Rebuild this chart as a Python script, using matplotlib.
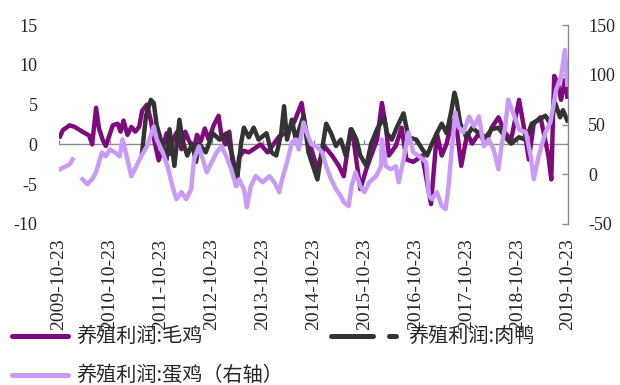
import numpy as np
import pandas as pd
import matplotlib
matplotlib.use('Agg')
import matplotlib.pyplot as plt
from matplotlib.lines import Line2D

# 养殖利润:毛鸡 (左轴)
broiler_dates = [
    '2009-10-30', '2009-11-20', '2010-01-08', '2010-02-12', '2010-04-09', '2010-05-28',
    '2010-06-18', '2010-07-16', '2010-08-06', '2010-09-03', '2010-09-24', '2010-11-13',
    '2010-12-18', '2011-01-08', '2011-01-29', '2011-02-26', '2011-03-26', '2011-04-23',
    '2011-05-21', '2011-06-11', '2011-07-16', '2011-08-13', '2011-09-10', '2011-10-08',
    '2011-11-06', '2011-12-04', '2011-12-25', '2012-01-22', '2012-02-19', '2012-03-19',
    '2012-04-16', '2012-05-14', '2012-06-18', '2012-07-09', '2012-08-06', '2012-09-03',
    '2012-10-01', '2012-11-06', '2012-12-11', '2013-01-01', '2013-01-29', '2013-02-26',
    '2013-03-26', '2013-04-16', '2013-05-07', '2013-06-11', '2013-07-16', '2013-08-27',
    '2013-10-08', '2013-11-27', '2014-01-08', '2014-02-19', '2014-04-02', '2014-05-14',
    '2014-06-11', '2014-07-30', '2014-08-27', '2014-09-17', '2014-11-20', '2015-01-08',
    '2015-03-05', '2015-04-23', '2015-05-28', '2015-07-16', '2015-08-06', '2015-09-24',
    '2015-11-06', '2015-12-11', '2016-01-22', '2016-02-26', '2016-03-26', '2016-04-16',
    '2016-06-04', '2016-07-16', '2016-08-20', '2016-10-08', '2016-12-11', '2017-02-12',
    '2017-03-05', '2017-03-26', '2017-04-30', '2017-06-04', '2017-07-02', '2017-08-06',
    '2017-09-17', '2017-10-30', '2017-12-04', '2018-01-22', '2018-03-12', '2018-04-23',
    '2018-06-11', '2018-07-30', '2018-09-10', '2018-11-06', '2018-12-11', '2019-01-15',
    '2019-02-19', '2019-04-09', '2019-06-04', '2019-06-25', '2019-07-16', '2019-08-13',
    '2019-09-03', '2019-10-01', '2019-10-18',
]
broiler = [
    1.0, 1.8, 2.4, 2.2, 1.6, 1.1,
    0.0, 4.6, 2.0, 0.5, -0.2, 2.4,
    2.6, 1.6, 3.0, 1.2, 2.2, 1.6,
    2.2, 4.2, 5.0, 3.0, 0.2, -2.0,
    -0.4, 1.4, -1.2, 0.8, 1.6, -0.6,
    1.6, 0.4, -0.6, 1.2, 0.4, 2.0,
    0.6, 2.4, 3.6, 1.0, 0.0, 1.6,
    -3.0, -5.2, -1.6, -0.8, -1.0, -0.5,
    0.0, -1.0, 0.0, 1.0, 1.4, 2.0,
    3.0, 5.2, 2.0, 0.6, -3.1, -0.2,
    -1.4, -2.7, -4.0, 1.9, 0.6, -5.6,
    -3.1, -1.4, 0.6, 5.2, 2.1, -1.4,
    -0.2, 2.1, -1.9, -2.2, -1.4, -7.5,
    -3.1, 1.4, -1.4, 0.1, 2.1, 3.4,
    -2.7, 1.4, 0.1, 1.4, 0.1, 2.1,
    3.4, 1.4, 0.6, 5.6, 2.1, -1.9,
    2.6, 3.4, -1.4, -4.4, 8.6, 7.5,
    5.6, 8.1, 6.0,
]

# 养殖利润:肉鸭 (左轴)
duck_dates = [
    '2011-06-11', '2011-07-09', '2011-08-13', '2011-09-03', '2011-09-24', '2011-11-06',
    '2011-12-04', '2011-12-25', '2012-01-29', '2012-03-05', '2012-03-26', '2012-04-30',
    '2012-06-04', '2012-07-02', '2012-07-23', '2012-09-10', '2012-10-30', '2012-12-18',
    '2013-02-05', '2013-03-19', '2013-04-23', '2013-05-21', '2013-06-11', '2013-07-16',
    '2013-08-20', '2013-09-24', '2013-11-20', '2013-12-25', '2014-01-29', '2014-03-05',
    '2014-03-26', '2014-04-16', '2014-05-21', '2014-06-18', '2014-08-13', '2014-09-17',
    '2014-11-20', '2015-01-22', '2015-02-26', '2015-04-02', '2015-05-07', '2015-06-11',
    '2015-07-23', '2015-08-27', '2015-09-24', '2015-11-06', '2015-12-11', '2016-01-22',
    '2016-03-12', '2016-04-02', '2016-05-07', '2016-06-11', '2016-07-30', '2016-09-03',
    '2016-10-30', '2016-12-11', '2017-01-15', '2017-02-19', '2017-03-26', '2017-04-30',
    '2017-06-04', '2017-07-09', '2017-07-30', '2017-08-13', '2017-09-10', '2017-10-23',
    '2017-12-04', '2018-01-22', '2018-03-12', '2018-04-23', '2018-06-11', '2018-07-30',
    '2018-09-10', '2018-11-06', '2018-12-25', '2019-02-05', '2019-03-26', '2019-05-14',
    '2019-06-18', '2019-07-23', '2019-08-27', '2019-09-17', '2019-10-18',
]
duck = [
    -1.0, 3.6, 5.6, 5.2, 2.4, -0.2,
    -1.9, 1.9, -2.7, 3.1, 0.6, -1.4,
    0.1, -2.2, 0.1, -1.0, 1.4, 0.6,
    1.4, -1.4, -4.4, 0.1, 2.1, 0.9,
    2.1, 0.6, 1.4, -1.0, -1.4, 1.4,
    4.8, 0.6, 3.1, 0.6, 3.6, -1.0,
    -4.4, 2.6, 1.4, -0.2, 0.6, -1.4,
    1.9, 0.6, -1.4, -2.7, 0.1, 1.9,
    3.4, 1.4, 0.6, 2.1, 3.9, 0.9,
    0.6, -0.6, -1.4, 0.1, 1.4, 2.6,
    1.4, 4.3, 6.5, 5.6, 2.6, 0.9,
    2.1, 1.4, 0.9, 1.9, 2.1, 0.9,
    0.1, 0.9, 0.6, 2.6, 3.1, 3.6,
    2.6, 5.2, 3.4, 4.3, 3.0,
]

# 养殖利润:蛋鸡 (右轴)
layer_dates = [
    '2009-10-30', '2009-12-11', '2010-01-08', '2010-01-29', '2010-02-26', '2010-04-09',
    '2010-05-14', '2010-06-18', '2010-07-16', '2010-08-06', '2010-08-27', '2010-09-24',
    '2010-10-23', '2010-11-27', '2011-01-01', '2011-01-22', '2011-02-26', '2011-03-26',
    '2011-04-30', '2011-06-04', '2011-07-16', '2011-09-03', '2011-09-24', '2011-11-06',
    '2011-12-11', '2012-01-15', '2012-02-12', '2012-03-19', '2012-04-23', '2012-05-28',
    '2012-06-18', '2012-07-23', '2012-08-13', '2012-09-17', '2012-10-23', '2012-11-27',
    '2013-01-01', '2013-02-05', '2013-03-12', '2013-04-16', '2013-05-07', '2013-06-11',
    '2013-07-02', '2013-07-30', '2013-09-03', '2013-10-23', '2013-12-11', '2014-01-15',
    '2014-02-19', '2014-03-12', '2014-04-16', '2014-05-21', '2014-06-18', '2014-07-09',
    '2014-08-13', '2014-09-03', '2014-10-08', '2014-11-13', '2014-12-25', '2015-01-22',
    '2015-02-26', '2015-04-02', '2015-05-07', '2015-05-28', '2015-07-02', '2015-07-23',
    '2015-08-20', '2015-09-24', '2015-10-23', '2015-11-27', '2016-01-15', '2016-02-19',
    '2016-02-26', '2016-03-26', '2016-04-30', '2016-06-04', '2016-06-25', '2016-07-30',
    '2016-09-03', '2016-10-08', '2016-11-20', '2017-01-08', '2017-01-29', '2017-02-19',
    '2017-03-26', '2017-04-30', '2017-05-28', '2017-06-18', '2017-07-09', '2017-08-06',
    '2017-08-27', '2017-10-01', '2017-11-13', '2017-12-18', '2018-01-22', '2018-02-26',
    '2018-04-02', '2018-05-07', '2018-06-11', '2018-07-02', '2018-07-30', '2018-08-20',
    '2018-09-24', '2018-11-06', '2018-12-25', '2019-01-29', '2019-02-19', '2019-03-26',
    '2019-05-14', '2019-06-18', '2019-07-09', '2019-07-30', '2019-09-03', '2019-10-01',
    '2019-10-18',
]
layer = [
    5, 8, 10, 15, np.nan, -5,
    -10, -5, 2, 12, 22, 18,
    25, 22, 18, 35, 15, -2,
    8, 18, 28, 48, 35, 22,
    8, -12, -25, -18, -25, -15,
    15, 28, 18, 2, 12, 22,
    28, 18, 5, -12, -5, -15,
    -33, -12, -2, -8, -2, -8,
    -18, -5, 12, 32, 35, 25,
    52, 42, 30, 28, 22, 8,
    -5, -15, -22, -28, -32, -12,
    2, -12, -18, -8, -2, 8,
    35, 8, 5, 8, -8, 15,
    42, 22, 18, 12, -22, -25,
    -18, -32, -35, -12, 22, 62,
    48, 42, 58, 48, 58, 28,
    35, 25, 5, 28, 48, 75,
    62, 45, 42, 18, -5, 18,
    42, 52, 68, 85, 98, 125,
    90,
]

tick_dates = ['2009-10-23', '2010-10-23', '2011-10-23', '2012-10-23', '2013-10-23',
              '2014-10-23', '2015-10-23', '2016-10-23', '2017-10-23', '2018-10-23',
              '2019-10-23']
left_ticks = [-10, -5, 0, 5, 10, 15]
right_ticks = [-50, 0, 50, 100, 150]

c_broiler = '#7E0A7E'
c_duck = '#333333'
c_layer = '#C99BF7'
txt = '#262626'
num_font = 'Liberation Serif'
cjk_font = ['Noto Sans CJK SC', 'DejaVu Sans']

fig = plt.figure(figsize=(6.2, 3.85), dpi=100)
ax = fig.add_axes([59 / 620, 1 - 224 / 385, 509 / 620, 199 / 385])
ax2 = ax.twinx()

xt = pd.to_datetime(tick_dates)
ax.axhline(0, color='#8c8c8c', lw=1.0, zorder=1)
ax.vlines(xt, 0, 0.5, color='#8c8c8c', lw=1.0, zorder=1)

ax.plot(pd.to_datetime(broiler_dates), broiler, color=c_broiler, lw=3.2,
        solid_joinstyle='round', zorder=2)
ax.plot(pd.to_datetime(duck_dates), duck, color=c_duck, lw=3.2,
        solid_joinstyle='round', zorder=3)
ax2.plot(pd.to_datetime(layer_dates), layer, color=c_layer, lw=3.2,
         solid_joinstyle='round')

ax.set_xlim(pd.Timestamp('2009-10-23'), pd.Timestamp('2019-10-23'))
ax.set_ylim(-10, 15)
ax2.set_ylim(-50, 150)

ax.set_xticks(xt)
ax.set_xticklabels(tick_dates, rotation=90, fontsize=14, family=num_font, color=txt)
ax.tick_params(axis='x', length=0, pad=10.5)
ax.set_yticks(left_ticks)
ax.set_yticklabels([str(v) for v in left_ticks], fontsize=13, family=num_font, color=txt)
ax.tick_params(axis='y', length=0, pad=15.5)

ax2.set_yticks(right_ticks)
ax2.set_yticklabels([str(v) for v in right_ticks], fontsize=13, family=num_font, color=txt)
ax2.tick_params(axis='y', direction='in', length=4.5, width=1, color='#8c8c8c', pad=14.5)

for a in (ax, ax2):
    for s in ('top', 'left', 'bottom'):
        a.spines[s].set_visible(False)
ax.spines['right'].set_visible(False)
ax2.spines['right'].set_color('#8c8c8c')
ax2.spines['right'].set_linewidth(1)
ax.patch.set_visible(False)

# legend drawn by hand so it can overlap the date labels like the original
def legend_line(x0, x1, y, color, **kw):
    fig.add_artist(Line2D([x0 / 620, x1 / 620], [1 - y / 385, 1 - y / 385],
                          color=color, lw=3.6, transform=fig.transFigure, **kw))

def legend_text(x, y, s):
    fig.text(x / 620, 1 - y / 385, s, fontsize=14.5, family=cjk_font, color=txt,
             ha='left', va='center')

legend_line(12, 68, 336, c_broiler, solid_capstyle='round')
legend_text(76, 336, '养殖利润:毛鸡')
legend_line(331, 396, 336, c_duck, linestyle=(0, (8.4, 3.2)), dash_capstyle='round')
legend_text(408, 336, '养殖利润:肉鸭')
legend_line(12, 68, 375, c_layer, solid_capstyle='round')
legend_text(76, 375, '养殖利润:蛋鸡（右轴）')

fig.savefig('out.png', dpi=100)
